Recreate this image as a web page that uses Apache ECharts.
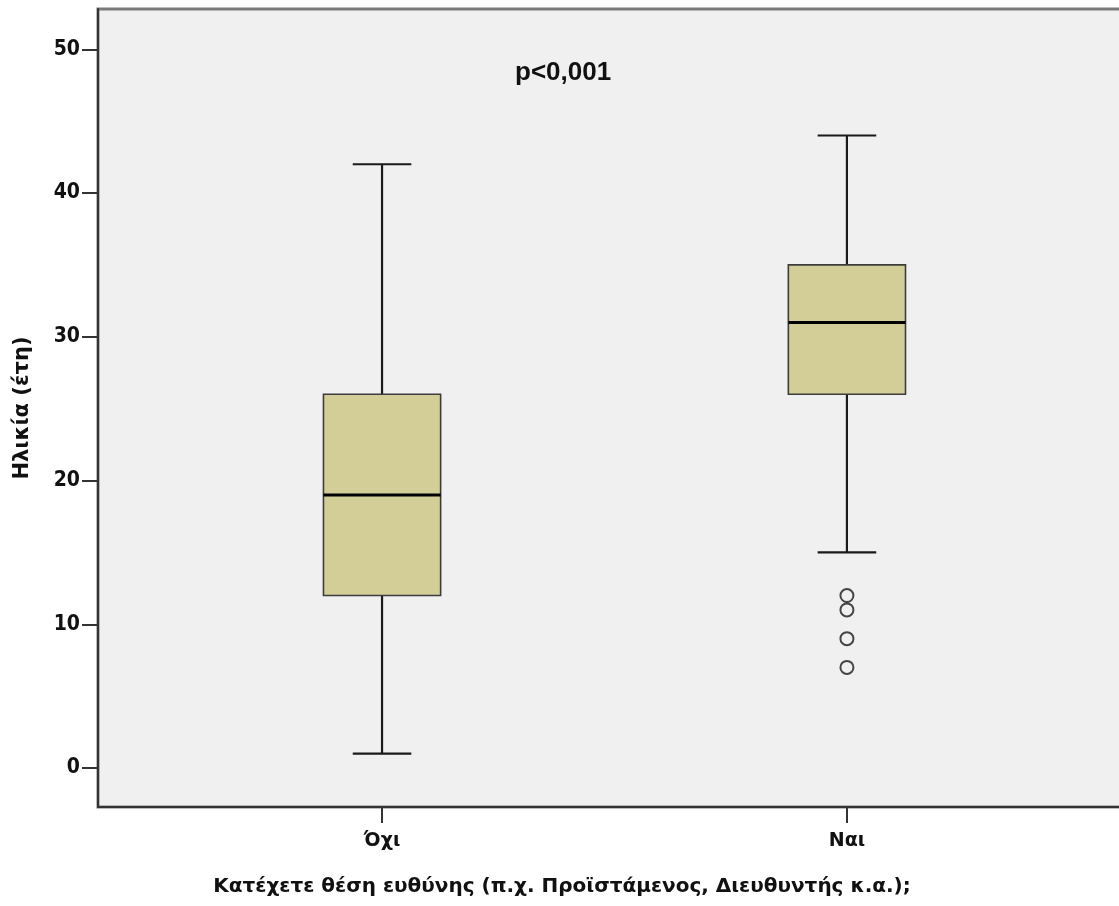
<!DOCTYPE html>
<html>
<head>
<meta charset="utf-8">
<script src="https://cdn.jsdelivr.net/npm/echarts@6/dist/echarts.min.js"></script>
<style>html,body{margin:0;padding:0;background:#fff}#c{width:1119px;height:906px}</style>
</head>
<body>
<div id="c"></div>
<script>
// Data
var categories = ['Όχι', 'Ναι'];
var boxMin    = [1, 15];
var boxQ1     = [12, 26];
var boxMedian = [19, 31];
var boxQ3     = [26, 35];
var boxMax    = [42, 44];
var outlierCategory = [1, 1, 1, 1];   // index into categories
var outlierValues   = [12, 11, 9, 7];
var yTicks = [0, 10, 20, 30, 40, 50];
var pText = 'p<0,001';
var xTitle = 'Κατέχετε θέση ευθύνης (π.χ. Προϊστάμενος, Διευθυντής κ.α.);';
var yTitle = 'Ηλικία (έτη)';

var boxData = categories.map(function (c, i) {
  return [i + 1, boxMin[i], boxQ1[i], boxMedian[i], boxQ3[i], boxMax[i]];
});
var outlierData = outlierValues.map(function (v, i) {
  return [outlierCategory[i] + 1, v];
});

var tickFont = "'DejaVu Sans Condensed', 'Liberation Sans', sans-serif";
var textFont = "'DejaVu Sans', sans-serif";

var chart = echarts.init(document.getElementById('c'));
chart.setOption({
  animation: false,
  backgroundColor: '#ffffff',
  grid: {
    left: 98, top: 9, right: -5, bottom: 99,
    outerBoundsMode: 'none', containLabel: false,
    show: true, backgroundColor: '#f0f0f0', borderColor: '#7a7a7a', borderWidth: 3
  },
  xAxis: {
    type: 'value',
    min: 0.389, max: 2.596,
    splitLine: { show: false },
    axisLine: { show: true, onZero: false, lineStyle: { color: '#333', width: 2 } },
    axisTick: { show: true, length: 16, customValues: [1, 2], lineStyle: { color: '#333', width: 2 } },
    axisLabel: {
      customValues: [1, 2], margin: 25,
      formatter: function (v) { return categories[Math.round(v) - 1] || ''; },
      color: '#111', fontFamily: textFont, fontWeight: 'bold', fontSize: 19
    }
  },
  yAxis: {
    type: 'value',
    min: -2.71, max: 52.8,
    splitLine: { show: false },
    axisLine: { show: true, onZero: false, lineStyle: { color: '#333', width: 2 } },
    axisTick: { show: true, length: 16, customValues: yTicks, lineStyle: { color: '#333', width: 2 } },
    axisLabel: {
      customValues: yTicks, margin: 18,
      color: '#111', fontFamily: tickFont, fontWeight: 'bold', fontSize: 21
    },
    name: yTitle, nameLocation: 'middle', nameGap: 65,
    nameTextStyle: { color: '#111', fontFamily: textFont, fontWeight: 'bold', fontSize: 21 }
  },
  graphic: [
    { type: 'text', left: 515, top: 60,
      style: { text: pText, fill: '#111', font: "bold 26px 'Liberation Sans', Arial, sans-serif" } },
    { type: 'text', x: 562, y: 887,
      style: { text: xTitle, fill: '#111', align: 'center', verticalAlign: 'middle',
               font: "bold 20px 'DejaVu Sans', sans-serif" } }
  ],
  series: [
    {
      type: 'custom',
      data: boxData,
      encode: { x: 0, y: [1, 2, 3, 4, 5] },
      renderItem: function (params, api) {
        var x = api.value(0);
        var pMin = api.coord([x, api.value(1)]);
        var pQ1 = api.coord([x, api.value(2)]);
        var pMed = api.coord([x, api.value(3)]);
        var pQ3 = api.coord([x, api.value(4)]);
        var pMax = api.coord([x, api.value(5)]);
        var bw = api.size([0.252, 0])[0];
        var cw = api.size([0.126, 0])[0];
        var cx = pQ1[0];
        var lineStyle = { stroke: '#1a1a1a', lineWidth: 2.2 };
        return {
          type: 'group',
          children: [
            { type: 'line', shape: { x1: cx, y1: pQ3[1], x2: cx, y2: pMax[1] }, style: lineStyle },
            { type: 'line', shape: { x1: cx, y1: pQ1[1], x2: cx, y2: pMin[1] }, style: lineStyle },
            { type: 'line', shape: { x1: cx - cw / 2, y1: pMax[1], x2: cx + cw / 2, y2: pMax[1] }, style: lineStyle },
            { type: 'line', shape: { x1: cx - cw / 2, y1: pMin[1], x2: cx + cw / 2, y2: pMin[1] }, style: lineStyle },
            { type: 'rect', shape: { x: cx - bw / 2, y: pQ3[1], width: bw, height: pQ1[1] - pQ3[1] },
              style: { fill: '#d3ce98', stroke: '#3c3c3c', lineWidth: 1.6 } },
            { type: 'line', shape: { x1: cx - bw / 2, y1: pMed[1], x2: cx + bw / 2, y2: pMed[1] },
              style: { stroke: '#000', lineWidth: 3 } }
          ]
        };
      },
      z: 3
    },
    {
      type: 'scatter',
      data: outlierData,
      symbol: 'circle',
      symbolSize: 13,
      itemStyle: { color: 'rgba(0,0,0,0)', borderColor: '#1a1a1a', borderWidth: 2 },
      z: 4
    }
  ]
});
</script>
</body>
</html>
